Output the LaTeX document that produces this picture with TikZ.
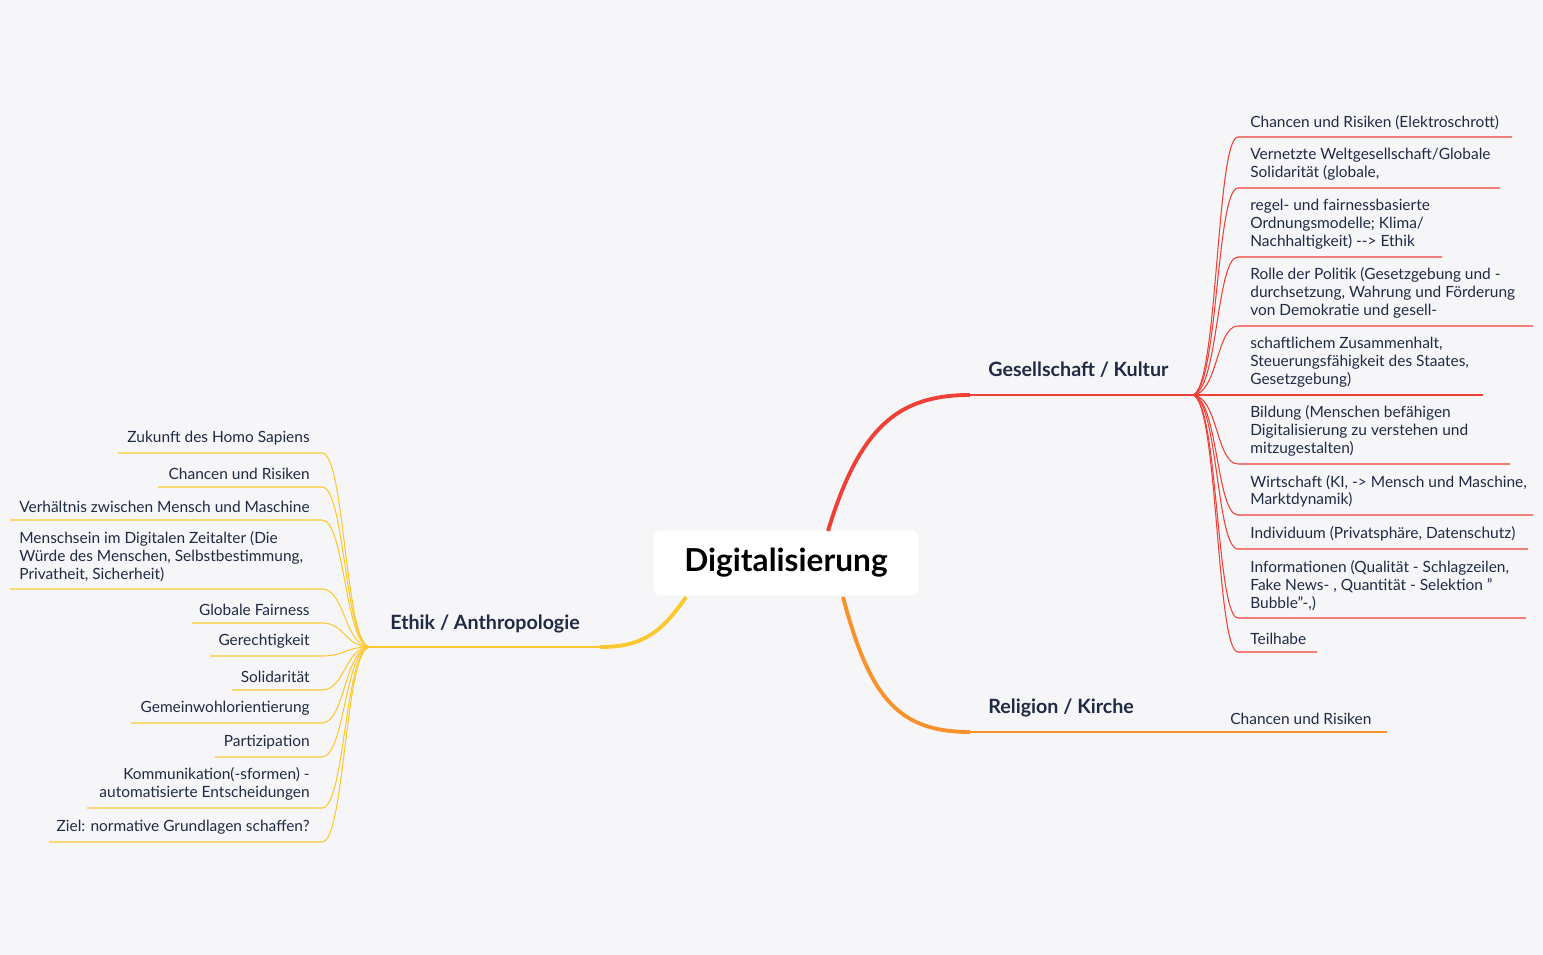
\documentclass[tikz,border=0pt]{standalone}
\usepackage{fontspec}
\setmainfont{Lato}
\usepackage{xcolor}
\definecolor{bgc}{HTML}{F6F6F8}
\definecolor{txt}{HTML}{1F2A44}
\definecolor{redb}{HTML}{EE4036}
\definecolor{orab}{HTML}{F7922D}
\definecolor{yelb}{HTML}{FCC830}
\usetikzlibrary{positioning}
\begin{document}
\begin{tikzpicture}[x=0.02cm,y=-0.02cm,
    leaf/.style={inner sep=0pt,align=left,text=txt,font=\fontsize{8.8}{10.2}\selectfont},
    lleaf/.style={leaf,align=right},
    branch/.style={inner sep=0pt,text=txt,font=\fontsize{11.2}{13}\selectfont\bfseries}]
	\fill [bgc] (0,0) rectangle (1543,955);
	% centre
	\node [fill=white,rounded corners=4pt,minimum width=265*0.02cm,minimum height=65*0.02cm,
	   font=\fontsize{18}{21}\selectfont\bfseries,text=black] (root) at (786,563) {Digitalisierung};
	% main branches
	\coordinate (gk) at (1192,395);
	\coordinate (rk) at (1208,732);
	\coordinate (ea) at (370,647);
	\draw [redb,line width=2.2pt] (828,531) .. controls (860,425) and (900,395) .. (970,395);
	\draw [redb,line width=1pt] (970,395) -- (gk);
	\draw [orab,line width=2.2pt] (843,597) .. controls (870,700) and (900,732) .. (970,732);
	\draw [orab,line width=1pt] (970,732) -- (rk);
	\draw [yelb,line width=2.2pt] (686,597) .. controls (660,635) and (640,647) .. (600,647);
	\draw [yelb,line width=1pt] (600,647) -- (ea);
	\node [branch,anchor=base west] (gkl) at (988,377) {Gesellschaft / Kultur};
	\node [branch,anchor=base west] (rkl) at (988,714) {Religion / Kirche};
	\node [branch,anchor=base west] (eal) at (390,630) {Ethik / Anthropologie};
	% Gesellschaft / Kultur
	\foreach \y/\e/\t [count=\i] in {
	  137/1512/{Chancen und Risiken (Elektroschrott)},
	  188/1500/{Vernetzte Weltgesellschaft/Globale\\Solidarität (globale,},
	  257/1442/{regel- und fairnessbasierte\\Ordnungsmodelle; Klima/\\Nachhaltigkeit) -{}-{}> Ethik},
	  326/1533/{Rolle der Politik (Gesetzgebung und -\\durchsetzung, Wahrung und Förderung\\von Demokratie und gesell-},
	  395/1483/{schaftlichem Zusammenhalt,\\Steuerungsfähigkeit des Staates,\\Gesetzgebung)},
	  464/1510/{Bildung (Menschen befähigen\\Digitalisierung zu verstehen und\\mitzugestalten)},
	  515/1533/{Wirtschaft (KI, -> Mensch und Maschine,\\Marktdynamik)},
	  549/1528/{Individuum (Privatsphäre, Datenschutz)},
	  618/1526/{Informationen (Qualität - Schlagzeilen,\\Fake News- , Quantität - Selektion \char34\\Bubble\char34-,)},
	  652/1317/{Teilhabe}} {
		\coordinate (g\i) at (1238,\y);
		\node [leaf,anchor=south west] (gt\i) at (1250,\y-7) {\t};
		\draw [redb,line width=0.6pt] (gk) .. controls (1218,395) and (1216,\y) .. (g\i) -- (\e,\y);
	}
	% Religion / Kirche
	\node [leaf,anchor=south west] (rt1) at (1230,725) {Chancen und Risiken};
	\draw [orab,line width=0.8pt] (rk) -- (1387,732);
	% Ethik / Anthropologie
	\foreach \y/\s/\t [count=\i] in {
	  453/118/{Zukunft des Homo Sapiens},
	  487/158/{Chancen und Risiken},
	  520/10/{Verhältnis zwischen Mensch und Maschine},
	  589/10/{Menschsein im Digitalen Zeitalter (Die\\Würde des Menschen, Selbstbestimmung,\\Privatheit, Sicherheit)},
	  623/192/{Globale Fairness},
	  656/210/{Gerechtigkeit},
	  690/232/{Solidarität},
	  723/131/{Gemeinwohlorientierung},
	  757/215/{Partizipation},
	  808/87/{Kommunikation(-sformen) -\\automatisierte Entscheidungen},
	  842/49/{Ziel: normative Grundlagen schaffen?}} {
		\coordinate (e\i) at (322,\y);
		\ifnum\i=4
		  \node [leaf,anchor=south west] (et\i) at (19,\y-7) {\t};
		\else
		  \node [lleaf,anchor=south east] (et\i) at (310,\y-7) {\t};
		\fi
		\draw [yelb,line width=0.6pt] (ea) .. controls (345,647) and (345,\y) .. (e\i) -- (\s,\y);
	}
\end{tikzpicture}
\end{document}
